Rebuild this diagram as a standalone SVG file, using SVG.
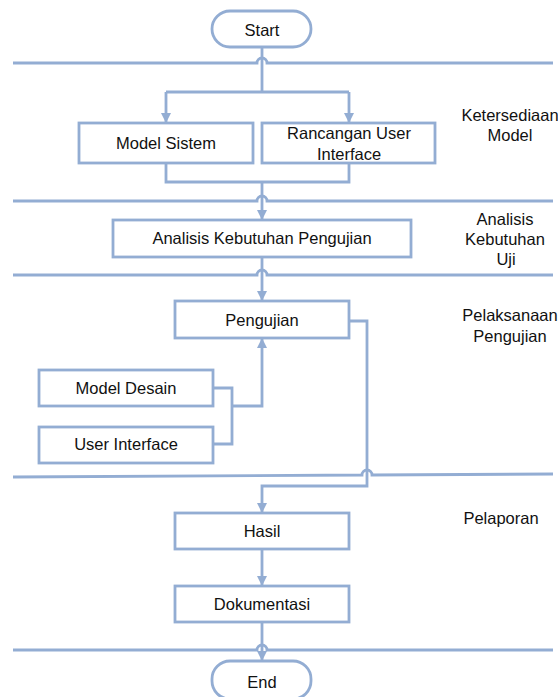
<svg xmlns="http://www.w3.org/2000/svg" width="558" height="697" viewBox="0 0 558 697">
<style>
.box{fill:#fff;stroke:#93ADD3;stroke-width:2.8}
.ln{fill:none;stroke:#93ADD3;stroke-width:2.8}
.t{font-family:"Liberation Sans",Arial,sans-serif;font-size:16.5px;fill:#111;text-anchor:middle}
</style>
<defs>
<marker id="ah" viewBox="0 0 10 10" refX="10" refY="5" markerWidth="10" markerHeight="10" markerUnits="userSpaceOnUse" orient="auto">
<path d="M0,0 L10,5 L0,10 z" fill="#93ADD3"/>
</marker>
</defs>
<rect width="558" height="697" fill="#fff"/>
<g id="lanes">
<path class="ln" d="M13,63 H257 a5,5 0 0 1 10,0 H553"/>
<path class="ln" d="M13,201 H257 a5,5 0 0 1 10,0 H553"/>
<path class="ln" d="M13,275 H257 a5,5 0 0 1 10,0 H553"/>
<path class="ln" d="M13,477 L362,475 a5,5 0 0 1 10,0 L553,474"/>
<path class="ln" d="M13,650 H257 a5,5 0 0 1 10,0 H553"/>
</g>
<g id="connectors">
<path class="ln" d="M262,47 V92"/>
<path class="ln" d="M166,92 H349"/>
<path class="ln" d="M166,92 V123" marker-end="url(#ah)"/>
<path class="ln" d="M349,92 V123" marker-end="url(#ah)"/>
<path class="ln" d="M166,163 V182 H349 V163"/>
<path class="ln" d="M262,182 V220" marker-end="url(#ah)"/>
<path class="ln" d="M262,257 V301" marker-end="url(#ah)"/>
<path class="ln" d="M349,321 H367 V486 H262 V513" marker-end="url(#ah)"/>
<path class="ln" d="M213,388 H232 V444 H213"/>
<path class="ln" d="M232,406 H262 V338" marker-end="url(#ah)"/>
<path class="ln" d="M262,549 V586" marker-end="url(#ah)"/>
<path class="ln" d="M262,622 V661" marker-end="url(#ah)"/>
</g>
<g id="start"><rect class="box" x="212" y="11" width="99" height="36" rx="18"/><text class="t" x="262" y="36">Start</text></g>
<g id="model-sistem"><rect class="box" x="79" y="123" width="174" height="40"/><text class="t" x="166" y="149">Model Sistem</text></g>
<g id="rancangan"><rect class="box" x="262" y="123" width="173" height="40"/><text class="t" x="349" y="139">Rancangan User</text><text class="t" x="349" y="160">Interface</text></g>
<g id="analisis"><rect class="box" x="113" y="220" width="298" height="37"/><text class="t" x="262" y="244">Analisis Kebutuhan Pengujian</text></g>
<g id="pengujian"><rect class="box" x="175" y="301" width="174" height="37"/><text class="t" x="262" y="326">Pengujian</text></g>
<g id="model-desain"><rect class="box" x="39" y="370" width="174" height="36"/><text class="t" x="126" y="394">Model Desain</text></g>
<g id="user-interface"><rect class="box" x="39" y="427" width="174" height="36"/><text class="t" x="126" y="450">User Interface</text></g>
<g id="hasil"><rect class="box" x="175" y="513" width="174" height="36"/><text class="t" x="262" y="537">Hasil</text></g>
<g id="dokumentasi"><rect class="box" x="175" y="586" width="174" height="36"/><text class="t" x="262" y="610">Dokumentasi</text></g>
<g id="end"><rect class="box" x="212" y="661" width="99" height="38" rx="18"/><text class="t" x="262" y="688">End</text></g>
<g id="labels">
<text class="t" x="510" y="121">Ketersediaan</text><text class="t" x="510" y="141">Model</text>
<text class="t" x="505" y="225">Analisis</text><text class="t" x="505" y="245">Kebutuhan</text><text class="t" x="506" y="265">Uji</text>
<text class="t" x="510" y="321">Pelaksanaan</text><text class="t" x="510" y="342">Pengujian</text>
<text class="t" x="501" y="524">Pelaporan</text>
</g>
</svg>
